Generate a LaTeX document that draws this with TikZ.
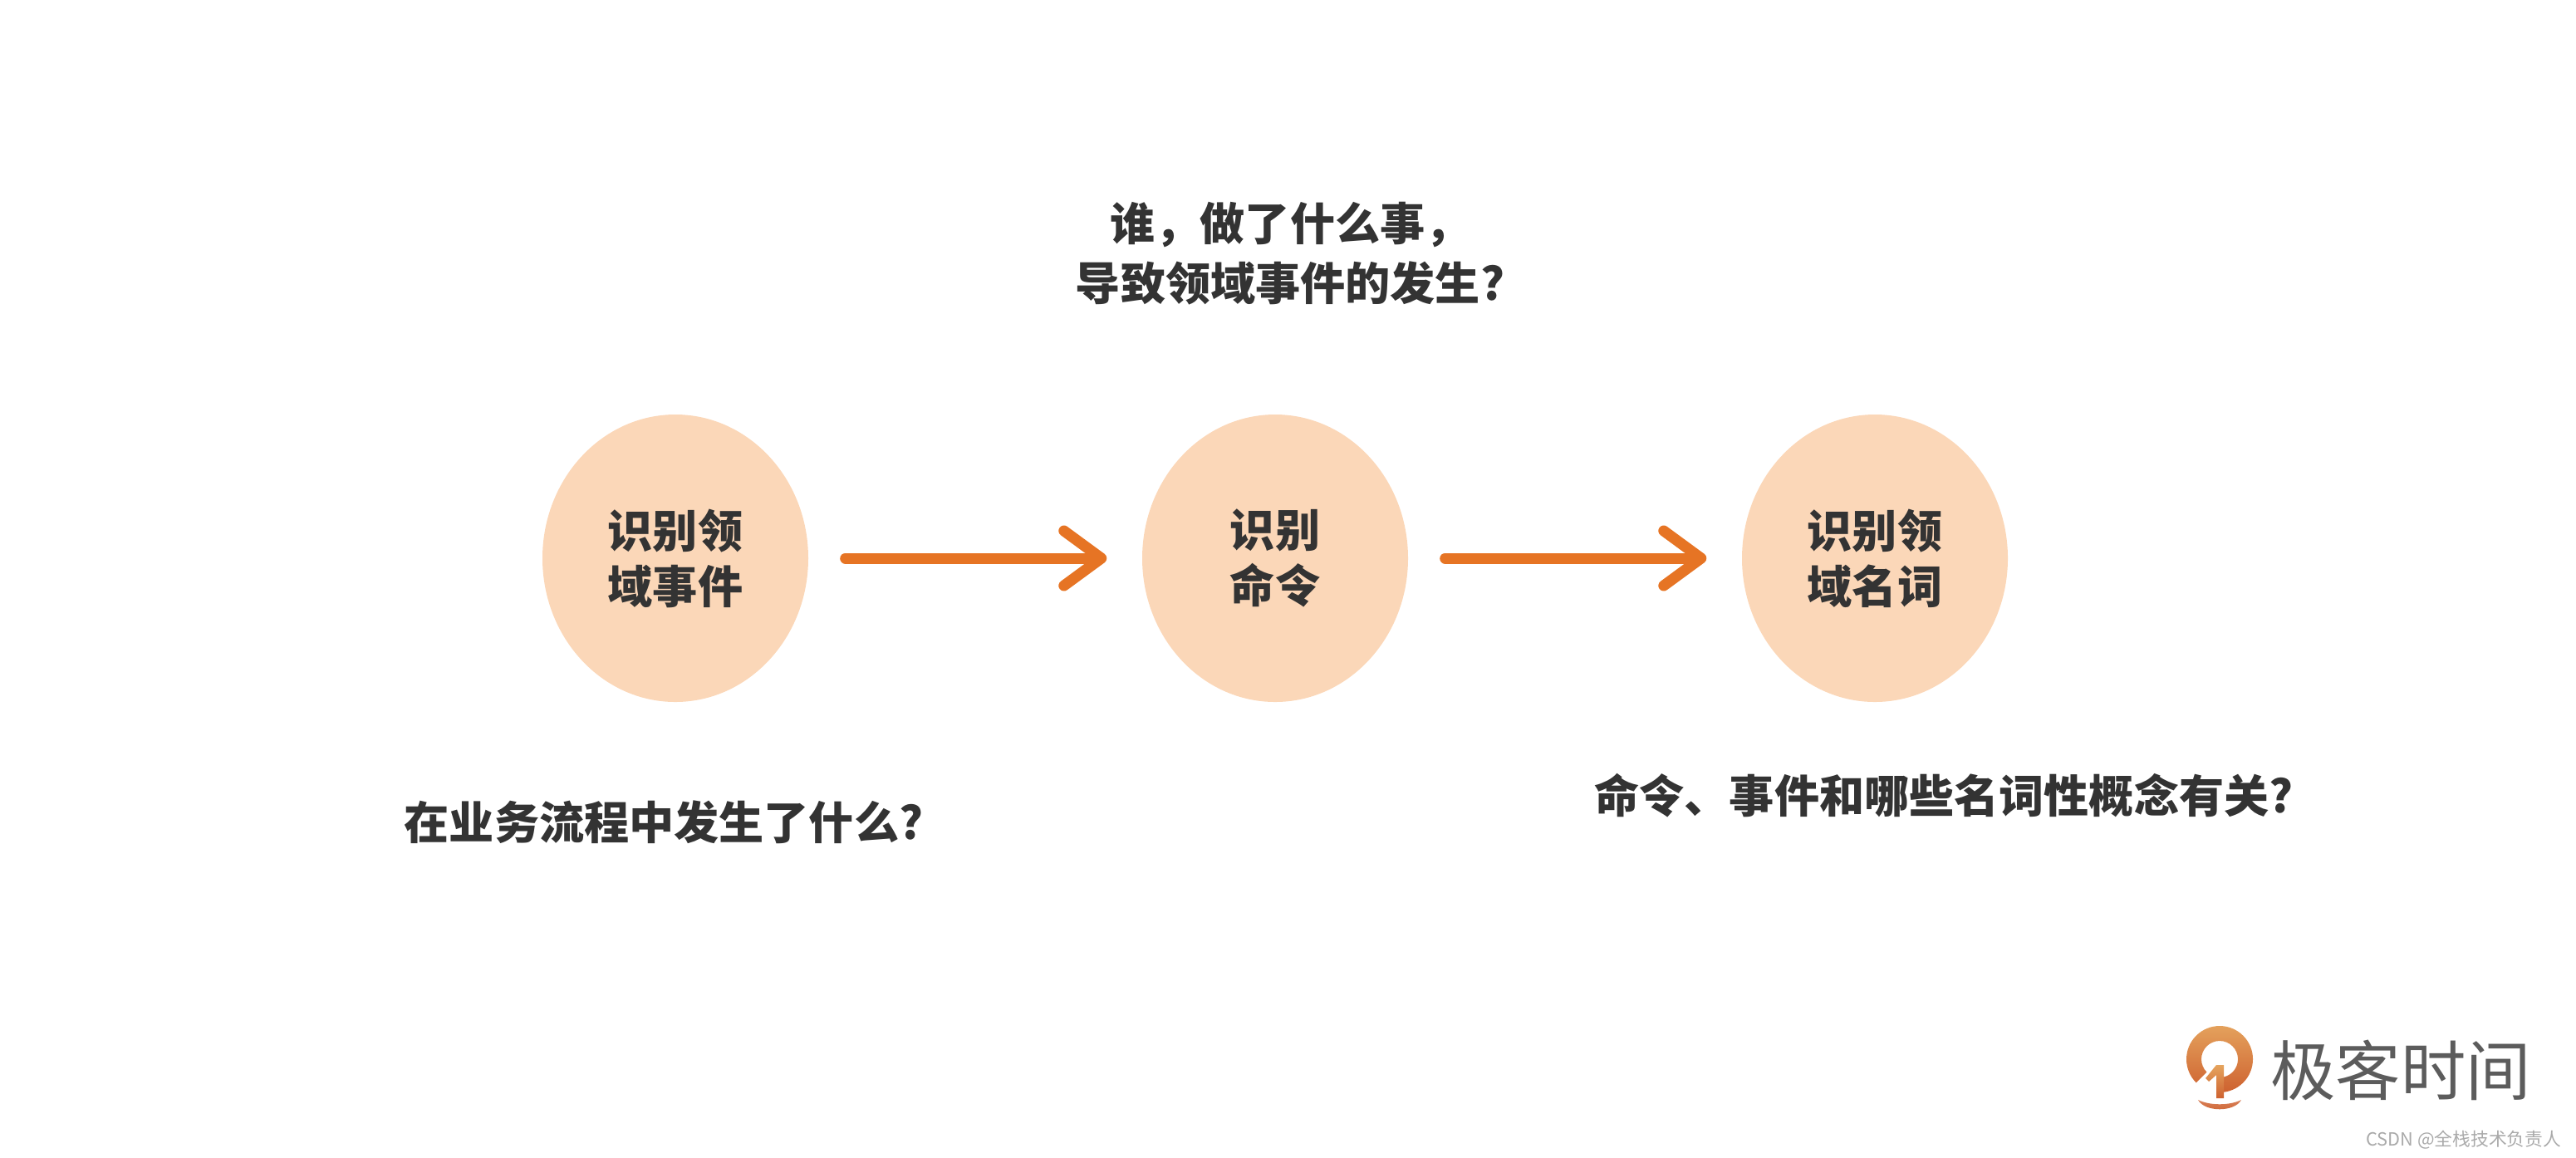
\documentclass[tikz,border=0pt]{standalone}
\usepackage{fontspec}
\usepackage{tikz}
\usetikzlibrary{arrows.meta, shapes.geometric}
\newfontfamily\cjk{Noto Sans CJK SC}
\definecolor{melocoton}{RGB}{251,215,184}
\definecolor{naranja}{RGB}{230,116,36}
\definecolor{texto}{RGB}{51,51,51}
\definecolor{logogris}{RGB}{92,92,92}
\definecolor{firmagris}{RGB}{170,170,170}
\definecolor{logoclaro}{RGB}{229,164,94}
\definecolor{logooscuro}{RGB}{206,98,48}

\begin{document}
\begin{tikzpicture}[x=1cm, y=-1cm,
    circulo/.style={ellipse, fill=melocoton, minimum width=3.2cm, minimum height=3.46cm, inner sep=0pt, align=center, text=texto, font=\cjk\bfseries\fontsize{15.4}{19}\selectfont},
    pregunta/.style={align=center, text=texto, inner sep=0pt, font=\cjk\bfseries\fontsize{15.4}{20.5}\selectfont},
    flecha/.style={naranja, line width=0.13cm, line cap=round, shorten <=0.44cm, shorten >=0.42cm, -{Straight Barb[round, length=4.5mm, width=6.6mm]}}]
            % Marco
            \useasboundingbox (0,0) rectangle (31.01,13.93);

            % Círculos
            \node[circulo] (evento) at (8.13,6.72) {识别领\\域事件};
            \node[circulo] (comando) at (15.35,6.72) {识别\\命令};
            \node[circulo] (nombre) at (22.57,6.72) {识别领\\域名词};

            % Flechas
            \draw[flecha] (evento) -- (comando);
            \draw[flecha] (comando) -- (nombre);

            % Preguntas
            \node[pregunta] (quien) at (15.53,3.05) {谁，做了什么事，\\导致领域事件的发生?};
            \node[pregunta] (proceso) at (7.99,9.90) {在业务流程中发生了什么?};
            \node[pregunta] (conceptos) at (23.40,9.58) {命令、事件和哪些名词性概念有关?};

            % Logo
            \shade[top color=logoclaro, bottom color=logooscuro] (26.72,12.75) ++(135:0.40) arc[start angle=135, end angle=450, radius=0.40] -- ++(0,-0.18) arc[start angle=450, end angle=135, radius=0.22] -- cycle;
            \shade[top color=logoclaro, bottom color=logooscuro] (26.68,12.82) -- (26.77,12.82) -- (26.77,13.22) -- (26.68,13.22) -- (26.68,12.94) -- (26.59,13.02) -- (26.55,12.98) -- cycle;
            \shade[top color=logooscuro!80, bottom color=logooscuro] (26.46,13.24) .. controls (26.60,13.31) and (26.84,13.31) .. (26.98,13.24) .. controls (26.90,13.39) and (26.54,13.39) .. cycle;
            \node[text=logogris, inner sep=0pt, font=\cjk\fontsize{22.3}{24}\selectfont] (logo) at (28.90,12.88) {极客时间};
            \node[text=firmagris, inner sep=0pt, font=\cjk\fontsize{6.2}{7}\selectfont, anchor=east] (firma) at (30.84,13.72) {CSDN @全栈技术负责人};
        \end{tikzpicture}
\end{document}
